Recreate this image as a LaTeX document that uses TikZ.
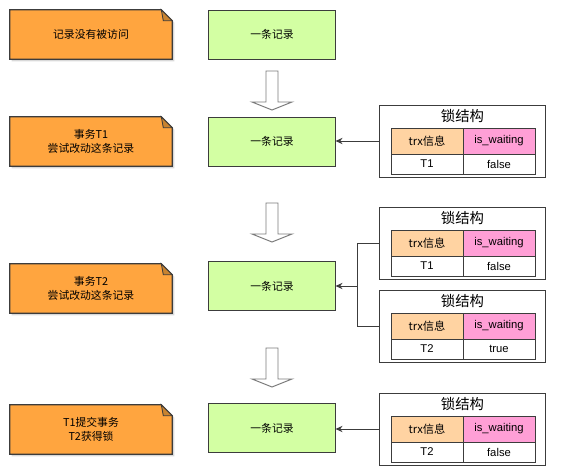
\documentclass[tikz,border=0pt]{standalone}
\usepackage{fontspec}
\setmainfont{Liberation Sans}
\newfontfamily\cjk{Noto Sans CJK SC}
\usetikzlibrary{arrows.meta,positioning,calc,shadows,backgrounds}
\definecolor{NoteOrange}{HTML}{FFA53F}
\definecolor{FoldOrange}{HTML}{C9832F}
\definecolor{RecGreen}{HTML}{D3FFA3}
\definecolor{HeadPeach}{HTML}{FFD3A2}
\definecolor{HeadPink}{HTML}{FF9FD6}
\definecolor{LineGrey}{HTML}{3C3C3C}
\definecolor{ArrowGrey}{HTML}{7A7A7A}
\tikzset{
  NT/.style={minimum width=4.05cm,minimum height=1.225cm,
             align=center,font=\fontsize{7.7}{10}\cjk},
  NF/.style={fill=NoteOrange,draw=LineGrey,line width=0.8pt},
  FD/.style={fill=FoldOrange,draw=LineGrey,line width=0.6pt},
  RB/.style={rectangle,draw=LineGrey,fill=RecGreen,line width=0.7pt,
             minimum width=3.15cm,minimum height=1.225cm,
             font=\fontsize{7.7}{10}\cjk},
  LK/.style={rectangle,draw=LineGrey,fill=white,line width=0.7pt,
             minimum width=4.125cm,minimum height=1.8cm,
             drop shadow={shadow xshift=1pt,shadow yshift=-1pt,
                          fill=black!20,opacity=1}},
  TT/.style={font=\fontsize{10.2}{12}\cjk},
  HC/.style={rectangle,draw=LineGrey,line width=0.6pt,inner sep=0pt,
             minimum width=1.8cm,minimum height=0.65cm,
             font=\fontsize{8}{9}\selectfont},
  DC/.style={HC,fill=white,minimum height=0.5cm},
  HA/.style={draw=ArrowGrey,fill=white,line width=0.7pt},
  ln/.style={draw=LineGrey,line width=0.6pt},
  arr/.style={ln,-{Stealth[length=5pt,width=4.5pt]}}
}
\begin{document}
\begin{tikzpicture}[x=0.025cm,y=-0.025cm]
  \useasboundingbox (0,0) rectangle (561,475);

  \node[NT] (n1) at (91,34.5) {记录没有被访问};
  \node[NT] (n2) at (91,141.5) {事务T1\\尝试改动这条记录};
  \node[NT] (n3) at (91,288.5) {事务T2\\尝试改动这条记录};
  \node[NT] (n4) at (91,429.5) {T1提交事务\\T2获得锁};

  \begin{scope}[on background layer]
    \foreach \n in {n1,n2,n3,n4}{
      \fill[black!15] ($(\n.south west)+(2,0)$) -- ($(\n.south west)+(2,2)$)
        -- ($(\n.south east)+(2,2)$) -- ($(\n.north east)+(2,13)$)
        -- ($(\n.north east)+(0,11)$) -- cycle;
      \draw[NF] (\n.south west) -- (\n.north west) -- ($(\n.north east)+(-11,0)$)
        -- ($(\n.north east)+(0,11)$) -- (\n.south east) -- cycle;
      \draw[FD] ($(\n.north east)+(-11,0)$) -- ($(\n.north east)+(-9,11)$)
        -- ($(\n.north east)+(0,11)$) -- cycle;
    }
  \end{scope}

  \node[RB] (r1) at (272,34.5) {一条记录};
  \node[RB] (r2) at (272,141.5) {一条记录};
  \node[RB] (r3) at (272,286) {一条记录};
  \node[RB] (r4) at (272,428) {一条记录};

  \foreach \y in {71,203,348}{
    \draw[HA] (266,\y) -- (278,\y) -- (278,\y+31) -- (292,\y+31)
      -- (272,\y+39) -- (252,\y+31) -- (266,\y+31) -- cycle;
  }

  \foreach \k/\t/\who/\wait in {1/105/T1/false,2/207/T1/false,3/290/T2/true,4/393/T2/false}{
    \node[LK] (lk\k) at (462.5,\t+36) {};
    \node[TT] (lt\k) at (462.5,\t+11) {锁结构};
    \node[HC,fill=HeadPeach,font=\fontsize{8}{9}\cjk] (hx\k) at (427,\t+36) {trx信息};
    \node[HC,fill=HeadPink] (hw\k) at (499,\t+36) {is\_waiting};
    \node[DC] (dx\k) at (427,\t+59) {\who};
    \node[DC] (dw\k) at (499,\t+59) {\wait};
  }

  \coordinate (jn) at (357,286);
  \draw[arr] (lk1.west) -- (lk1.west -| r2.east);
  \draw[ln] (lk2.west) -| (jn);
  \draw[ln] (lk3.west) -| (jn);
  \draw[arr] (jn) -- (r3.east);
  \draw[arr] (lk4.west) -- (lk4.west -| r4.east);
\end{tikzpicture}
\end{document}
